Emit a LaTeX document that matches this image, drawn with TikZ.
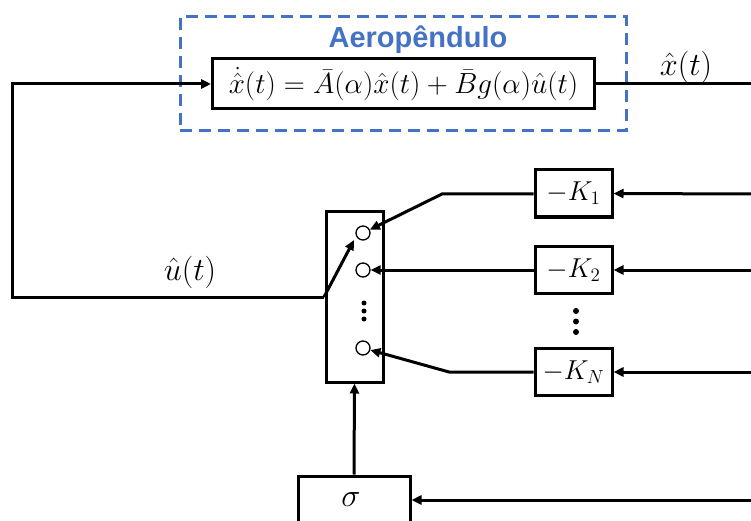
\documentclass[tikz,border=0pt]{standalone}
\usepackage{amsmath}
\usepackage{graphicx}
\usepackage{fontspec}
\newfontfamily\aerofont{Liberation Sans}
\usetikzlibrary{arrows.meta}
\definecolor{aeroblue}{HTML}{4472C4}
\newcommand{\eqmath}[1]{\scalebox{1.17}{\Huge #1}}
\newcommand{\lblmath}[1]{\scalebox{1.3}{\Huge #1}}
\newcommand{\kmath}[1]{\scalebox{1.32}{\huge #1}}
\tikzset{
  blk/.style={draw=black, line width=3pt, minimum width=#1, inner sep=0pt, fill=white},
  ln/.style={line width=3pt, line join=miter},
  arr/.style={ln, -{Triangle[length=10pt,width=9pt]}},
  contact/.style={draw=black, line width=1.3pt, circle, minimum size=14pt, inner sep=0pt},
  dotmark/.style={fill=black, circle, inner sep=0pt, minimum size=#1},
}
\begin{document}
\begin{tikzpicture}[x=1pt,y=-1pt]
\useasboundingbox (0,0) rectangle (751,521);
% plant (dashed)
\node[draw=aeroblue, line width=3pt, dash pattern=on 12pt off 7pt, minimum width=446pt, minimum height=114pt, inner sep=0pt] (plant) at (403,74) {};
\node[text=aeroblue, font=\aerofont\bfseries\fontsize{29}{32}\selectfont, inner sep=0pt] (aero) at (418,40) {Aeropêndulo};
\node[blk=382pt, minimum height=50pt] (eq) at (403.5,84) {\eqmath{$\dot{\hat{x}}(t)=\bar{A}(\alpha)\hat{x}(t)+\bar{B}g(\alpha)\hat{u}(t)$}};
% output
\coordinate (xout) at (751,84);
\draw[ln] (eq.east) -- (xout);
\node[inner sep=0pt] (xlab) at (686,67) {\lblmath{$\hat{x}(t)$}};
% switch
\node[blk=57pt, minimum height=170pt] (sw) at (354.5,297) {};
\node[contact] (c1) at (363,233) {};
\node[contact] (c2) at (363,270) {};
\node[contact] (cN) at (363,348) {};
\node[dotmark=5pt] (sd1) at (364,303) {};
\node[dotmark=5pt] (sd2) at (364,311) {};
\node[dotmark=5pt] (sd3) at (364,319) {};
% gains
\node[blk=77pt, minimum height=47pt] (k1) at (573.5,193.5) {\kmath{$-K_1$}};
\node[blk=77pt, minimum height=47pt] (k2) at (573.5,270) {\kmath{$-K_2$}};
\node[blk=77pt, minimum height=47pt] (kN) at (573.5,372) {\kmath{$-K_N$}};
\node[dotmark=6pt] (kd1) at (576,311) {};
\node[dotmark=6pt] (kd2) at (576,321.5) {};
\node[dotmark=6pt] (kd3) at (576,332) {};
% sigma
\node[blk=112pt, minimum height=56pt] (sig) at (354,504) {};
\node[inner sep=0pt] (siglab) at (351,500) {\lblmath{$\sigma$}};
% inputs from the right
\coordinate (in1) at (751,194);
\coordinate (in2) at (751,270);
\coordinate (inN) at (751,372);
\coordinate (ins) at (751,500);
\draw[arr] (in1) -- (k1.east);
\draw[arr] (in2) -- (k2.east);
\draw[arr] (inN) -- (kN.east);
\draw[arr] (ins) -- (sig.east |- ins);
% gains to contacts
\coordinate (b1) at (442,194);
\coordinate (bN) at (449,372);
\draw[arr] (k1.west |- b1) -- (b1) -- (c1);
\draw[arr] (k2.west) -- (c2);
\draw[arr] (kN.west |- bN) -- (bN) -- (cN);
% sigma to switch
\draw[arr] (sig.north) -- (sw.south);
% switch arm and feedback
\coordinate (pivot) at (324,297);
\coordinate (armtip) at (354,240);
\coordinate (fbl) at (12,297);
\coordinate (fbt) at (12,84);
\draw[arr] (pivot) -- (armtip);
\draw[arr] (pivot) -- (fbl) -- (fbt) -- (eq.west);
\node[inner sep=0pt] (ulab) at (190,272) {\lblmath{$\hat{u}(t)$}};
\end{tikzpicture}
\end{document}
